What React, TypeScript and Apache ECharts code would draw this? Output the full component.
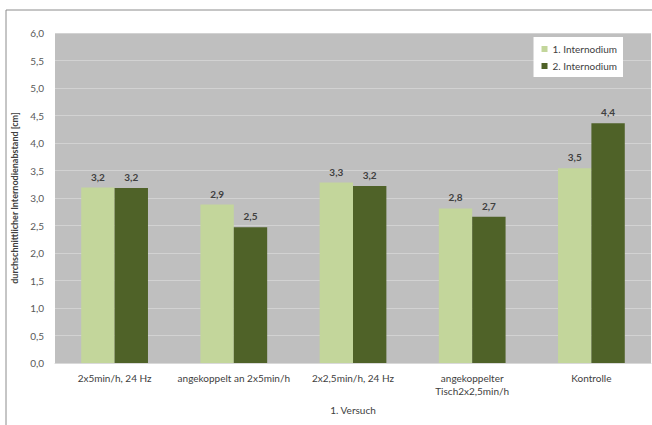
import React, { useEffect, useRef } from "react";
import * as echarts from "echarts";

const categories = [
  "2x5min/h, 24 Hz",
  "angekoppelt an 2x5min/h",
  "2x2,5min/h, 24 Hz",
  "angekoppelter\nTisch2x2,5min/h",
  "Kontrolle",
];
const internodium1 = [3.19, 2.88, 3.28, 2.81, 3.54];
const internodium2 = [3.18, 2.47, 3.22, 2.66, 4.36];
const seriesNames = ["1. Internodium", "2. Internodium"];
const yTicks = [0, 0.5, 1, 1.5, 2, 2.5, 3, 3.5, 4, 4.5, 5, 5.5, 6];

const FONT = "Lato, 'Noto Sans', sans-serif";
const fmt = (v: number) => (Math.round(v * 10) / 10).toFixed(1).replace(".", ",");

export default function App() {
  const ref = useRef<HTMLDivElement>(null);
  useEffect(() => {
    if (!ref.current) return;
    const chart = echarts.init(ref.current, null, { renderer: "svg" });
    const labelStyle = {
      show: true,
      position: "top" as const,
      distance: 6,
      color: "#404040",
      fontSize: 10,
      fontFamily: FONT,
      fontWeight: "bold" as const,
      formatter: (p: any) => fmt(p.value),
    };
    chart.setOption({
      animation: false,
      backgroundColor: "#ffffff",
      textStyle: { fontFamily: FONT },
      graphic: [
        {
          type: "rect",
          shape: { x: 6, y: 10, width: 700, height: 500 },
          style: { fill: "none", stroke: "#8c8c8c", lineWidth: 1 },
          z: -1,
        },
      ],
      grid: { left: 55, right: 1, top: 33, bottom: 62, containLabel: false },
      legend: {
        data: seriesNames,
        orient: "vertical",
        right: 29,
        top: 37,
        itemWidth: 6,
        itemHeight: 6,
        itemGap: 7,
        padding: [7, 6, 6, 8],
        backgroundColor: "#ffffff",
        icon: "rect",
        textStyle: { color: "#404040", fontSize: 10, fontFamily: FONT },
      },
      xAxis: {
        type: "category",
        data: categories,
        name: "1. Versuch",
        nameLocation: "middle",
        nameGap: 42,
        nameTextStyle: { color: "#404040", fontSize: 10, fontFamily: FONT },
        axisLine: { show: true, lineStyle: { color: "#d9d9d9" } },
        axisTick: { show: false },
        axisLabel: {
          color: "#404040",
          fontSize: 10,
          fontFamily: FONT,
          interval: 0,
          margin: 8,
          lineHeight: 13,
        },
      },
      yAxis: {
        type: "value",
        min: 0,
        max: 6,
        interval: 0.5,
        name: "durchschnittlicher Internodienabstand [cm]",
        nameLocation: "middle",
        nameGap: 33,
        nameRotate: 90,
        nameTextStyle: {
          color: "#404040",
          fontSize: 9,
          fontWeight: "bold",
          fontFamily: FONT,
        },
        axisLine: { show: false },
        axisTick: { show: false },
        axisLabel: {
          color: "#595959",
          fontSize: 10,
          fontFamily: FONT,
          margin: 11,
          formatter: (v: number) => (yTicks.includes(v) ? fmt(v) : ""),
        },
        splitLine: { show: true, lineStyle: { color: "#d2d2d2", width: 1 } },
        splitArea: { show: true, areaStyle: { color: ["#bfbfbf", "#bfbfbf"] } },
      },
      series: [
        {
          name: seriesNames[0],
          type: "bar",
          data: internodium1,
          barWidth: "28%",
          barGap: "0%",
          itemStyle: { color: "#c3d69b" },
          label: labelStyle,
        },
        {
          name: seriesNames[1],
          type: "bar",
          data: internodium2,
          barWidth: "28%",
          itemStyle: { color: "#4f6228" },
          label: labelStyle,
        },
      ],
    });
    return () => chart.dispose();
  }, []);
  return (
    <div
      ref={ref}
      style={{ position: "absolute", left: 0, top: 0, width: 652, height: 425 }}
    />
  );
}
